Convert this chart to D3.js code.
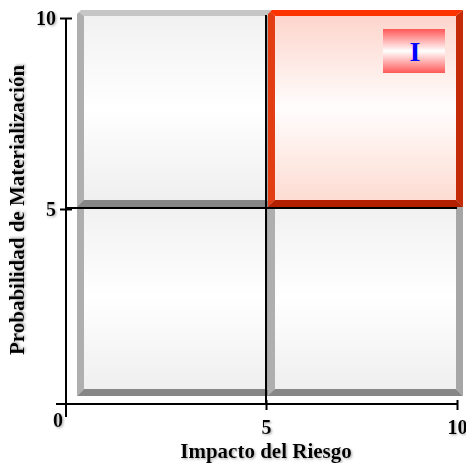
<!DOCTYPE html>
<html>
<head>
<meta charset="utf-8">
<script src="https://cdn.jsdelivr.net/npm/d3@7"></script>
<style>
  body { margin: 0; background: #fff; }
  svg { display: block; }
  text { font-family: "Liberation Serif", "Times New Roman", serif; font-weight: bold; }
</style>
</head>
<body>
<svg width="466" height="463"></svg>
<script>
const xTicks = [0, 5, 10];
const yTicks = [0, 5, 10];
const quadX = [[0, 5], [5, 10], [0, 5], [5, 10]];
const quadY = [[0, 5], [0, 5], [5, 10], [5, 10]];
const quadLabel = ["", "", "", "I"];
const quadHot = [false, false, false, true];
const xTitle = "Impacto del Riesgo";
const yTitle = "Probabilidad de Materialización";

const svg = d3.select("svg");
const defs = svg.append("defs");

// axis positions (slightly uneven halves)
const x = d3.scaleLinear().domain([0, 5, 10]).range([66, 266, 457]);
const y = d3.scaleLinear().domain([0, 5, 10]).range([404, 209, 18]);

function vGrad (id, stops) {
    const g = defs.append("linearGradient").attr("id", id)
        .attr("x1", 0).attr("y1", 0).attr("x2", 0).attr("y2", 1);
    stops.forEach(s => g.append("stop").attr("offset", s[0]).attr("stop-color", s[1]));
}
vGrad("grayFill", [[0, "#f1f1f1"], [0.5, "#ffffff"], [1, "#efefef"]]);
vGrad("redFill", [[0, "#fdd5cc"], [0.5, "#fffdfc"], [1, "#fddcd3"]]);
vGrad("tagFill", [[0, "#ff5858"], [0.5, "#ffffff"], [1, "#ff5858"]]);

const shadow = defs.append("filter").attr("id", "shadow")
    .attr("x", "-10%").attr("y", "-10%").attr("width", "130%").attr("height", "140%");
shadow.append("feDropShadow")
    .attr("dx", 1.2).attr("dy", 1.2).attr("stdDeviation", 0.9)
    .attr("flood-color", "#777").attr("flood-opacity", 0.6);

const grayBevel = { top: "#c6c6c6", left: "#afafaf", right: "#a6a6a6", bottom: "#878787", fill: "url(#grayFill)" };
const redBevel = { top: "#ff3300", left: "#e33d14", right: "#c42a06", bottom: "#b32000", fill: "url(#redFill)" };

function tile (g, x0, y0, x1, y1, c) {
    const b = 7, bt = 6, cut = 4;
    const poly = (pts, col) => g.append("polygon")
        .attr("points", pts.map(p => p.join(",")).join(" "))
        .attr("fill", col);
    poly([[x0 + cut, y0], [x1, y0], [x1 - b, y0 + bt], [x0 + b, y0 + bt], [x0 + cut / 2, y0 + cut / 2]], c.top);
    poly([[x0 + cut / 2, y0 + cut / 2], [x0 + b, y0 + bt], [x0 + b, y1 - b], [x0, y1], [x0, y0 + cut]], c.left);
    poly([[x1, y0], [x1, y1], [x1 - b, y1 - b], [x1 - b, y0 + bt]], c.right);
    poly([[x0, y1], [x0 + b, y1 - b], [x1 - b, y1 - b], [x1, y1]], c.bottom);
    g.append("rect")
        .attr("x", x0 + b).attr("y", y0 + bt)
        .attr("width", x1 - x0 - 2 * b).attr("height", y1 - y0 - b - bt)
        .attr("fill", c.fill);
}

// drawn bottom row first so neighbours hide the inner bevels
const tiles = svg.append("g");
quadX.forEach((qx, i) => {
    const qy = quadY[i];
    const left = x(qx[0]) + (qx[0] === 0 ? 11 : 2);
    const right = qx[1] === 10 ? x(10) + 6 : x(qx[1]) + 8;
    const top = qy[1] === 10 ? y(10) - 8 : y(qy[1]) - 9;
    const bottom = qy[0] === 0 ? y(0) - 8 : y(qy[0]) - 2;
    tile(tiles, left, top, right, bottom, quadHot[i] ? redBevel : grayBevel);
    if (quadLabel[i]) {
        const tw = 62, th = 44;
        const tx = right - 18 - tw, ty = top + 19;
        tiles.append("rect")
            .attr("x", tx).attr("y", ty).attr("width", tw).attr("height", th)
            .attr("fill", "url(#tagFill)");
        tiles.append("text")
            .attr("x", tx + tw / 2 + 1).attr("y", ty + th / 2)
            .attr("dy", "0.35em")
            .attr("text-anchor", "middle")
            .attr("fill", "#0000ff")
            .style("font-size", "28px")
            .text(quadLabel[i]);
    }
});

// divider lines at the midpoints
svg.append("line")
    .attr("x1", x(5)).attr("x2", x(5))
    .attr("y1", y(10) - 3).attr("y2", y(0))
    .attr("stroke", "#000").attr("stroke-width", 2);
svg.append("line")
    .attr("x1", x(0)).attr("x2", x(10))
    .attr("y1", y(5) - 1).attr("y2", y(5) - 1)
    .attr("stroke", "#000").attr("stroke-width", 2);

// axes
const axisStyle = g => {
    g.select(".domain").remove();
    g.selectAll("line").attr("stroke", "#000").attr("stroke-width", 2);
    g.selectAll("text").style("font-size", "20px").attr("fill", "#000").attr("filter", "url(#shadow)");
};

const yAxis = svg.append("g")
    .attr("transform", `translate(${x(0)},0)`)
    .call(d3.axisLeft(y).tickValues(yTicks.filter(d => d > 0)).tickSize(6).tickPadding(4).tickFormat(d3.format("d")))
    .call(axisStyle);
yAxis.selectAll(".tick line").attr("x1", 6);
yAxis.append("line")
    .attr("x1", 0).attr("x2", 0).attr("y1", y(10)).attr("y2", y(0) + 13)
    .attr("stroke", "#000").attr("stroke-width", 2);

const xAxis = svg.append("g")
    .attr("transform", `translate(0,${y(0)})`)
    .call(d3.axisBottom(x).tickValues(xTicks.filter(d => d > 0)).tickSize(6).tickPadding(10).tickFormat(d3.format("d")))
    .call(axisStyle);
xAxis.selectAll(".tick line").attr("y1", -4);
xAxis.append("line")
    .attr("x1", x(0) - 10).attr("x2", x(10)).attr("y1", 0).attr("y2", 0)
    .attr("stroke", "#000").attr("stroke-width", 2);

// origin label sits below-left of the corner
svg.append("text")
    .attr("x", x(0) - 3).attr("y", y(0) + 23)
    .attr("text-anchor", "end")
    .attr("filter", "url(#shadow)")
    .style("font-size", "20px")
    .text(xTicks[0]);

svg.append("text")
    .attr("x", x(5)).attr("y", 458)
    .attr("text-anchor", "middle")
    .attr("filter", "url(#shadow)")
    .style("font-size", "21px")
    .text(xTitle);

svg.append("text")
    .attr("transform", `translate(24,${y(5) + 1}) rotate(-90)`)
    .attr("text-anchor", "middle")
    .attr("filter", "url(#shadow)")
    .style("font-size", "21px")
    .text(yTitle);
</script>
</body>
</html>
